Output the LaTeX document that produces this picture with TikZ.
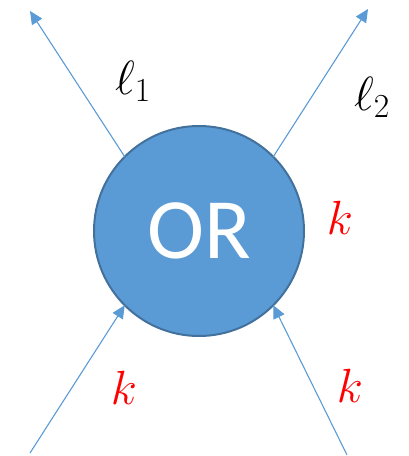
\documentclass[tikz,border=0pt]{standalone}
\usepackage{fix-cm}
\usepackage{fontspec}
\newfontfamily\carlito{Carlito}
\usetikzlibrary{arrows.meta}
\definecolor{offblue}{HTML}{5B9BD5}
\definecolor{offedge}{HTML}{41719C}
\tikzset{
  gate/.style={circle, fill=offblue, draw=offedge, line width=2pt, minimum size=210pt, inner sep=0pt, outer sep=0pt, text=white, font=\carlito\fontsize{86}{90}\selectfont},
  arr/.style={draw=offblue, line width=1.1pt, -{Triangle[length=13pt,width=12pt]}},
  lbl/.style={font=\fontsize{48}{54}\selectfont, inner sep=0pt},
  redlbl/.style={lbl, text=red}
}
\begin{document}
\begin{tikzpicture}[x=1pt,y=-1pt]
\useasboundingbox (0,0) rectangle (408,456);
\node[gate] (or) at (199,231) {OR};
\coordinate (tl) at (30,11);
\coordinate (tr) at (368,9);
\coordinate (bl) at (30,453);
\coordinate (br) at (347,455);
\draw[arr] (or.135) -- (tl);
\draw[arr] (or.45) -- (tr);
\draw[arr] (bl) -- (or.225);
\draw[arr] (br) -- (or.315);
\node[lbl] (l1) at (133,81) {$\ell_1$};
\node[lbl] (l2) at (372,97) {$\ell_2$};
\node[redlbl] (k1) at (340,218) {$k$};
\node[redlbl] (k2) at (124,388) {$k$};
\node[redlbl] (k3) at (350,386) {$k$};
\end{tikzpicture}
\end{document}
